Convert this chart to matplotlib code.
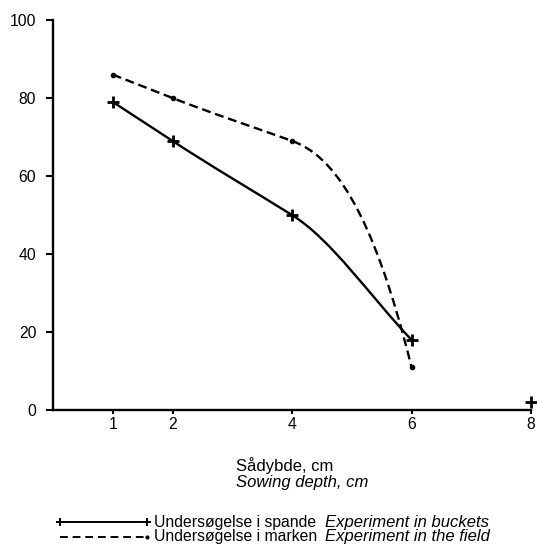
import matplotlib
matplotlib.use("Agg")
import matplotlib.pyplot as plt
from matplotlib.path import Path
from matplotlib.patches import PathPatch
from matplotlib.lines import Line2D

# data
depth = [1, 2, 4, 6]
buckets = [79, 69, 50, 18]
field = [86, 80, 69, 11]
extra_depth = [8]
extra_buckets = [2]
xticks = [1, 2, 4, 6, 8]
yticks = [0, 20, 40, 60, 80, 100]

plt.rcParams['font.family'] = ['Liberation Sans', 'DejaVu Sans']
FS = 11.3   # tick labels
TS = 12     # other text


def smooth_path(x, y, end_slope):
    # hermite segments turned into bezier curves, last tangent given
    slopes = []
    for i in range(len(x)):
        if i == 0:
            slopes.append((y[1] - y[0]) / (x[1] - x[0]))
        elif i == len(x) - 1:
            slopes.append(end_slope)
        else:
            slopes.append((y[i] - y[i - 1]) / (x[i] - x[i - 1]))
    verts = [(x[0], y[0])]
    codes = [Path.MOVETO]
    for i in range(len(x) - 1):
        h = x[i + 1] - x[i]
        verts += [(x[i] + h / 3, y[i] + h * slopes[i] / 3),
                  (x[i + 1] - h / 3, y[i + 1] - h * slopes[i + 1] / 3),
                  (x[i + 1], y[i + 1])]
        codes += [Path.CURVE4] * 3
    return Path(verts, codes)


fig = plt.figure(figsize=(5.37, 5.47), dpi=100)
ax = fig.add_axes([53 / 537, 1 - 410 / 547, 478 / 537, 390 / 547])

ax.add_patch(PathPatch(smooth_path(depth, buckets, -16), fill=False,
                       color='black', lw=1.7))
ax.add_patch(PathPatch(smooth_path(depth, field, -62), fill=False,
                       color='black', lw=1.7, linestyle=(0, (3.8, 2.0))))
ax.plot(depth, buckets, ls='none', marker='+', ms=8, mew=2, color='black')
ax.plot(depth, field, ls='none', marker='o', ms=3, color='black')
ax.plot(extra_depth, extra_buckets, ls='none', marker='+', ms=8, mew=2,
        color='black', clip_on=False)

ax.set_xlim(0, 8)
ax.set_ylim(0, 100)
ax.set_xticks(xticks)
ax.set_yticks(yticks)
ax.tick_params(axis='y', length=5, width=1.5, pad=7, labelsize=FS)
ax.tick_params(axis='x', length=3, width=1.5, pad=2, labelsize=FS)
for s in ['top', 'right']:
    ax.spines[s].set_visible(False)
for s in ['left', 'bottom']:
    ax.spines[s].set_linewidth(1.7)

# axis title, two languages
fig.text(236 / 537, 1 - 466 / 547, 'Sådybde, cm', fontsize=TS, va='center')
fig.text(236 / 537, 1 - 483 / 547, 'Sowing depth, cm', fontsize=TS,
         style='italic', va='center')

# hand made legend
y1 = 1 - 522 / 547
y2 = 1 - 537 / 547
fig.add_artist(Line2D([60 / 537, 147 / 537], [y1, y1], color='black', lw=1.4,
                      marker='+', ms=6, mew=1.4))
fig.add_artist(Line2D([60 / 537, 147 / 537], [y2, y2], color='black', lw=1.4,
                      ls=(0, (4, 2.5))))
fig.add_artist(Line2D([147 / 537], [y2], color='black', marker='o', ms=2,
                      ls='none'))
fig.text(154 / 537, y1, 'Undersøgelse i spande', fontsize=11.3, va='center')
fig.text(325 / 537, y1, 'Experiment in buckets', fontsize=TS, va='center',
         style='italic')
fig.text(154 / 537, y2, 'Undersøgelse i marken', fontsize=11.3, va='center')
fig.text(325 / 537, y2, 'Experiment in the field', fontsize=TS, va='center',
         style='italic')

fig.savefig('out.png', dpi=100)
